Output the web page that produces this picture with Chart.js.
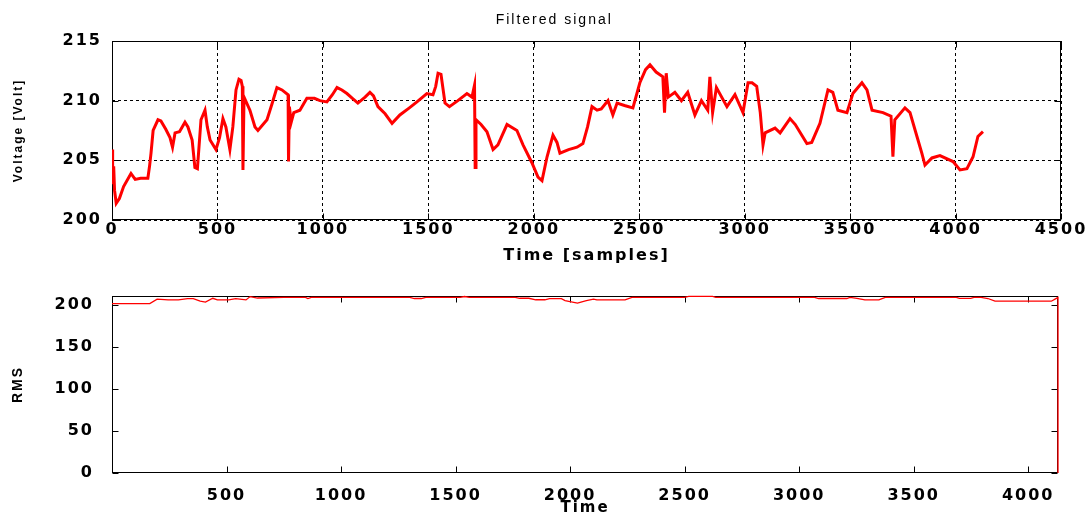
<!DOCTYPE html>
<html>
<head>
<meta charset="utf-8">
<script src="https://cdn.jsdelivr.net/npm/chart.js@4/dist/chart.umd.min.js"></script>
<style>
  body { margin: 0; background: #fff; }
  #wrap { position: relative; width: 1092px; height: 515px; }
  .box { position: absolute; left: 0; width: 1092px; }
</style>
</head>
<body>
<div id="wrap">
  <div class="box" style="top:0;height:265px"><canvas id="sigChart"></canvas></div>
  <div class="box" style="top:265px;height:250px"><canvas id="rmsChart"></canvas></div>
</div>
<script>
// filtered signal
var sigTime = [0, 3, 8, 12, 20, 35, 55, 90, 110, 136, 170, 178, 185, 195, 218, 232, 255, 275, 287, 299,
  320, 346, 360, 380, 393, 405, 422, 441, 452, 465, 493, 510, 526, 540, 559, 573, 588, 602, 612, 618,
  621, 626, 654, 678, 692, 735, 760, 782, 806, 835, 837, 841, 850, 862, 891, 924, 960, 986, 1019, 1045,
  1067, 1090, 1114, 1140, 1166, 1200, 1223, 1240, 1261, 1295, 1328, 1365, 1410, 1446, 1493, 1522, 1535, 1546, 1560, 1579,
  1600, 1640, 1683, 1707, 1719, 1722, 1726, 1750, 1778, 1807, 1830, 1873, 1920, 1949, 1991, 2020, 2039, 2063, 2091, 2110,
  2124, 2165, 2205, 2233, 2255, 2276, 2300, 2320, 2352, 2375, 2395, 2430, 2470, 2503, 2530, 2551, 2580, 2612, 2620, 2628,
  2638, 2669, 2700, 2730, 2764, 2795, 2825, 2835, 2848, 2866, 2916, 2954, 2992, 3016, 3035, 3057, 3074, 3087, 3097, 3144,
  3168, 3215, 3240, 3295, 3318, 3357, 3395, 3418, 3442, 3485, 3513, 3556, 3580, 3604, 3656, 3694, 3703, 3712, 3760, 3784,
  3817, 3840, 3855, 3888, 3926, 3988, 4021, 4054, 4083, 4106, 4130];
var sigVolt = [205.9, 203.0, 204.5, 202.5, 201.4, 201.8, 202.8, 203.9, 203.4, 203.5, 203.5, 204.5, 205.6, 207.5, 208.4, 208.3, 207.6, 206.9, 206.1, 207.3,
  207.4, 208.2, 207.8, 206.7, 204.4, 204.3, 208.4, 209.2, 207.8, 206.7, 205.9, 206.9, 208.5, 207.8, 205.9, 207.8, 210.9, 211.8, 211.7, 211.2,
  204.2, 210.3, 209.2, 207.8, 207.5, 208.4, 209.8, 211.1, 210.9, 210.5, 204.9, 209.5, 208.2, 209.0, 209.2, 210.2, 210.2, 210.0, 209.9, 210.5,
  211.1, 210.9, 210.6, 210.2, 209.8, 210.3, 210.7, 210.4, 209.5, 208.9, 208.1, 208.8, 209.4, 209.9, 210.6, 210.5, 211.2, 212.3, 212.2, 209.8,
  209.5, 210.0, 210.6, 210.3, 211.3, 204.4, 208.4, 208.0, 207.4, 205.9, 206.3, 208.0, 207.5, 206.3, 204.8, 203.6, 203.3, 205.3, 207.1, 206.5,
  205.6, 205.9, 206.1, 206.4, 207.8, 209.5, 209.2, 209.3, 210.0, 208.8, 209.8, 209.6, 209.4, 211.5, 212.6, 213.0, 212.4, 212.0, 209.0, 212.3,
  210.3, 210.7, 210.0, 210.7, 208.8, 210.0, 209.2, 212.0, 209.0, 211.1, 209.5, 210.5, 209.0, 211.5, 211.5, 211.2, 209.0, 206.3, 207.3, 207.7,
  207.3, 208.5, 208.0, 206.4, 206.5, 208.1, 210.9, 210.7, 209.2, 209.0, 210.6, 211.5, 210.9, 209.2, 209.0, 208.7, 205.3, 208.4, 209.4, 209.0,
  207.0, 205.6, 204.6, 205.2, 205.4, 204.9, 204.2, 204.3, 205.3, 207.0, 207.4];

// running RMS
var rmsTime = [0, 165, 197, 245, 290, 330, 355, 385, 408, 440, 460, 510, 540, 585, 603, 635, 750, 845, 855, 870,
  1300, 1320, 1350, 1370, 1520, 1539, 1560, 1760, 1780, 1820, 1850, 1890, 1910, 1962, 1978, 2032, 2071, 2102, 2117, 2240,
  2270, 2500, 2518, 2622, 2636, 3067, 3085, 3208, 3222, 3252, 3287, 3348, 3376, 3686, 3700, 3749, 3763, 3794, 3824, 3855,
  4101, 4117, 4130, 4130];
var rmsVal = [202, 202, 207.3, 206.3, 206.3, 207.8, 207.8, 204.8, 203.8, 208.3, 206.3, 206.3, 207.8, 206.3, 210.3, 208.6, 209.3, 209.3, 208.0, 209.4,
  209.4, 208.0, 208.0, 209.3, 209.3, 210.4, 209.4, 209.4, 208.3, 208.3, 206.5, 206.5, 207.8, 207.8, 205.5, 202.6, 205.5, 207.3, 206.3, 206.3,
  209.3, 209.4, 210.5, 210.5, 209.4, 209.4, 208.0, 208.0, 209.4, 208.2, 206.3, 206.3, 209.4, 209.4, 208.2, 208.2, 209.4, 209.4, 208.0, 204.8,
  204.8, 207.3, 209.3, 0];

var sigXTicks = [0, 500, 1000, 1500, 2000, 2500, 3000, 3500, 4000, 4500];
var sigYTicks = [200, 205, 210, 215];
var rmsXTicks = [0, 500, 1000, 1500, 2000, 2500, 3000, 3500, 4000];
var rmsXMax = 4130;
var rmsYTicks = [0, 50, 100, 150, 200];
var rmsYMax = 211;

Chart.defaults.color = "#000";

var tickFont = { family: "DejaVu Sans", weight: "bold", size: 16 };

function fixedTicks(list) {
  return function (scale) {
    scale.ticks = list.map(function (v) { return { value: v }; });
  };
}
function plainLabel(v) { return String(v); }

// box round the axes with inward ticks, like the original plot
var framePlugin = {
  id: "frame",
  beforeDraw: function (chart) {
    chart.ctx.letterSpacing = "2px";
  },
  beforeDatasetsDraw: function (chart) {
    var ctx = chart.ctx;
    var a = chart.chartArea;
    var x = chart.scales.x, y = chart.scales.y;
    var l = Math.round(a.left) + 0.5, r = Math.round(a.right) - 0.5;
    var t = Math.round(a.top) + 0.5, b = Math.round(a.bottom) - 0.5;
    ctx.save();
    ctx.strokeStyle = "#000";
    ctx.lineWidth = 1;
    ctx.setLineDash([]);
    ctx.strokeRect(l, t, r - l, b - t);
    ctx.beginPath();
    x.ticks.forEach(function (tk) {
      var px = Math.round(x.getPixelForValue(tk.value)) + 0.5;
      ctx.moveTo(px, b); ctx.lineTo(px, b - 6);
      ctx.moveTo(px, t); ctx.lineTo(px, t + 6);
    });
    y.ticks.forEach(function (tk) {
      var py = Math.round(y.getPixelForValue(tk.value)) + 0.5;
      ctx.moveTo(l, py); ctx.lineTo(l + 6, py);
      ctx.moveTo(r, py); ctx.lineTo(r - 6, py);
    });
    ctx.stroke();
    ctx.restore();
  },
  afterDraw: function (chart) {
    var txt = chart.options.plugins.frame && chart.options.plugins.frame.title;
    if (!txt) return;
    var ctx = chart.ctx, a = chart.chartArea;
    ctx.save();
    ctx.font = "14px 'Liberation Sans'";
    ctx.fillStyle = "#000";
    ctx.textAlign = "center";
    ctx.textBaseline = "middle";
    ctx.fillText(txt, a.left + a.width * 0.466, 20);
    ctx.restore();
  }
};

function toPoints(xs, ys) {
  return xs.map(function (v, i) { return { x: v, y: ys[i] }; });
}

new Chart(document.getElementById("sigChart"), {
  type: "scatter",
  data: {
    datasets: [{
      data: toPoints(sigTime, sigVolt),
      showLine: true,
      borderColor: "#ff0000",
      borderWidth: 3,
      pointRadius: 0,
      tension: 0
    }]
  },
  options: {
    responsive: true,
    maintainAspectRatio: false,
    animation: false,
    layout: { padding: { top: 41, right: 31, bottom: 0, left: 0 } },
    plugins: { legend: { display: false }, tooltip: { enabled: false }, frame: { title: "Filtered signal" } },
    scales: {
      x: {
        type: "linear",
        min: sigXTicks[0], max: sigXTicks[sigXTicks.length - 1],
        afterBuildTicks: fixedTicks(sigXTicks),
        afterFit: function (s) { s.height = 45; },
        grid: { color: "#000", lineWidth: 1, drawTicks: false },
        border: { display: false, dash: [3, 3] },
        ticks: { font: tickFont, padding: 0, maxRotation: 0, autoSkip: false, callback: plainLabel },
        title: { display: true, text: "Time [samples]", font: { family: "DejaVu Sans", weight: "bold", size: 16 }, padding: 0 }
      },
      y: {
        min: sigYTicks[0], max: sigYTicks[sigYTicks.length - 1],
        afterBuildTicks: fixedTicks(sigYTicks),
        afterFit: function (s) { s.width = 112; },
        grid: { color: "#000", lineWidth: 1, drawTicks: false },
        border: { display: false, dash: [3, 3] },
        ticks: { font: tickFont, padding: 10, callback: plainLabel },
        title: { display: true, text: "Voltage [Volt]", font: { family: "Liberation Sans", weight: "bold", size: 12 }, padding: { top: 11, bottom: 0 } }
      }
    }
  },
  plugins: [framePlugin]
});

new Chart(document.getElementById("rmsChart"), {
  type: "scatter",
  data: {
    datasets: [{
      data: toPoints(rmsTime, rmsVal),
      showLine: true,
      borderColor: "#ff0000",
      borderWidth: 1.3,
      pointRadius: 0,
      tension: 0,
      clip: false
    }]
  },
  options: {
    responsive: true,
    maintainAspectRatio: false,
    animation: false,
    layout: { padding: { top: 31, right: 34, bottom: 0, left: 0 } },
    plugins: { legend: { display: false }, tooltip: { enabled: false } },
    scales: {
      x: {
        type: "linear",
        min: rmsXTicks[0], max: rmsXMax,
        afterBuildTicks: fixedTicks(rmsXTicks),
        afterFit: function (s) { s.height = 42; },
        grid: { display: false },
        border: { display: false },
        ticks: {
          font: tickFont, padding: 5, maxRotation: 0, autoSkip: false,
          callback: function (v) { return v === 0 ? "" : String(v); }
        },
        title: { display: true, text: "Time", font: { family: "DejaVu Sans", weight: "bold", size: 15 }, padding: { top: 0, bottom: -2 } }
      },
      y: {
        min: rmsYTicks[0], max: rmsYMax,
        afterBuildTicks: fixedTicks(rmsYTicks),
        afterFit: function (s) { s.width = 112; },
        grid: { display: false },
        border: { display: false },
        ticks: { font: tickFont, padding: 10, callback: plainLabel },
        title: { display: true, text: "RMS", font: { family: "Liberation Sans", weight: "bold", size: 14 }, padding: { top: 10, bottom: 0 } }
      }
    }
  },
  plugins: [framePlugin]
});
</script>
</body>
</html>
